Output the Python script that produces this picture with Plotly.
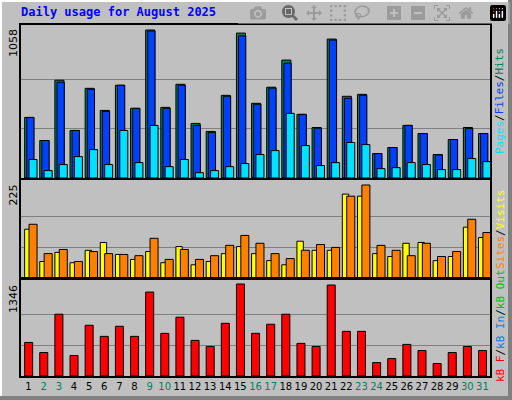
import plotly.graph_objects as go

days = list(range(1, 32))
hits = [433,268,699,340,641,483,663,498,1058,505,670,390,333,591,1036,534,649,843,455,361,993,584,598,175,218,376,318,168,275,361,318]
files = [433,268,685,340,634,476,663,498,1051,498,663,376,326,584,1016,527,642,821,455,356,986,570,592,175,218,376,318,165,275,354,318]
pages = [132,53,96,153,203,96,340,110,376,81,132,38,53,81,103,168,196,462,232,89,110,254,239,67,74,110,96,60,60,139,117]
visits = [118,40,62,37,67,86,57,45,64,37,76,32,40,59,76,59,42,32,89,67,67,203,198,59,52,84,86,42,52,123,98]
sites = [130,59,69,40,64,59,57,54,96,45,69,45,54,79,103,84,59,47,67,81,74,198,225,79,67,54,84,52,64,142,110]
kbytes = [491,344,904,300,742,580,727,580,1228,624,860,521,432,771,1346,624,757,904,477,432,1331,653,653,196,255,462,373,182,344,432,373]
weekend = {2,3,9,10,16,17,23,24,30,31}
max_hits, max_visits, max_kb = 1058, 225, 1346

W, H = 512, 400
def px(x): return x / W
def py(y): return 1 - y / H

fig = go.Figure()
line = dict(color="black", width=1)
def bar(y, color, off, w, ax):
    fig.add_trace(go.Bar(x=days, y=y, marker=dict(color=color, line=line), offset=off, width=w,
                         xaxis="x" + ax, yaxis="y" + ax, showlegend=False, hoverinfo="skip"))

bar(hits, "#00805c", -0.26, 0.6, "")
bar(files, "#0040ff", -0.12, 0.48, "")
bar(pages, "#00e0ff", 0.03, 0.53, "")
bar(visits, "#ffff00", -0.26, 0.42, "2")
bar(sites, "#ff8000", 0.03, 0.53, "2")
bar(kbytes, "#ff0000", -0.26, 0.53, "3")

xdom = [px(21), px(490)]
common = dict(range=[0.5, 31.5], domain=xdom, showgrid=False, zeroline=False,
              showline=True, linecolor="black", mirror=True, linewidth=2)
ticktext = [f"<span style='color:#00805c'>{d}</span>" if d in weekend else str(d) for d in days]
def yax(mx, top, base, dom_top, dom_bot):
    rng = mx * (dom_bot - dom_top) / (base - top)
    return dict(domain=[py(dom_bot), py(dom_top)], range=[0, rng], tickvals=[mx/3, 2*mx/3],
                showticklabels=False, ticks="", showgrid=True, gridcolor="#808080", gridwidth=1,
                zeroline=False, showline=True, linecolor="black", mirror=True, linewidth=2)

fig.update_layout(
    width=W, height=H, margin=dict(l=0, r=0, t=0, b=0), autosize=False,
    paper_bgcolor="#c0c0c0", plot_bgcolor="#c0c0c0", barmode="overlay",
    xaxis=dict(**common, showticklabels=False, anchor="y"),
    xaxis2=dict(**common, showticklabels=False, anchor="y2"),
    xaxis3=dict(**common, tickvals=days, ticktext=ticktext, ticks="", anchor="y3", tickangle=0,
                tickfont=dict(family="DejaVu Sans", size=10, color="black")),
    yaxis=yax(max_hits, 29, 177, 25, 178),
    yaxis2=yax(max_visits, 184, 277, 180, 278),
    yaxis3=yax(max_kb, 284, 376, 279, 376),
    font=dict(family="DejaVu Sans Mono"),
)

ann = []
ann.append(dict(text="<b>Daily usage for August 2025</b>", x=px(19), y=py(12), xanchor="left", yanchor="middle",
                font=dict(family="DejaVu Sans Mono", size=12, color="#0000ff")))
for lab, ytop in [("1058", 27), ("225", 183), ("1346", 283)]:
    ann.append(dict(text=lab, x=px(13), y=py(ytop), xanchor="center", yanchor="top", textangle=-90,
                    font=dict(family="DejaVu Sans", size=11, color="black")))
def side(parts, ymid):
    t = "<span style='color:black'>/</span>".join(f"<span style='color:{c}'>{s}</span>" for s, c in parts)
    ann.append(dict(text=t, x=px(500), y=py(ymid), xanchor="center", yanchor="middle", textangle=-90,
                    font=dict(family="DejaVu Sans Mono", size=11)))
side([("Pages", "#00e0ff"), ("Files", "#0040ff"), ("Hits", "#00805c")], 101)
side([("Sites", "#ff8000"), ("Visits", "#ffff00")], 229)
side([("kB F", "#ff0000"), ("kB In", "#0080ff"), ("kB Out", "#00c000")], 326)
for a in ann:
    a.update(xref="paper", yref="paper", showarrow=False)
fig.update_layout(annotations=ann)

shapes = [
    dict(type="line", xref="paper", yref="paper", x0=0, x1=1, y0=1, y1=1, line=dict(color="white", width=4)),
    dict(type="line", xref="paper", yref="paper", x0=0, x1=0, y0=0, y1=1, line=dict(color="white", width=4)),
    dict(type="line", xref="paper", yref="paper", x0=0, x1=1, y0=0, y1=0, line=dict(color="#808080", width=8)),
    dict(type="line", xref="paper", yref="paper", x0=1, x1=1, y0=0, y1=1, line=dict(color="#808080", width=8)),
]
fig.update_layout(shapes=shapes)
fig.write_html("out.html", post_script="document.body.style.margin='0';document.body.style.overflow='hidden';")
